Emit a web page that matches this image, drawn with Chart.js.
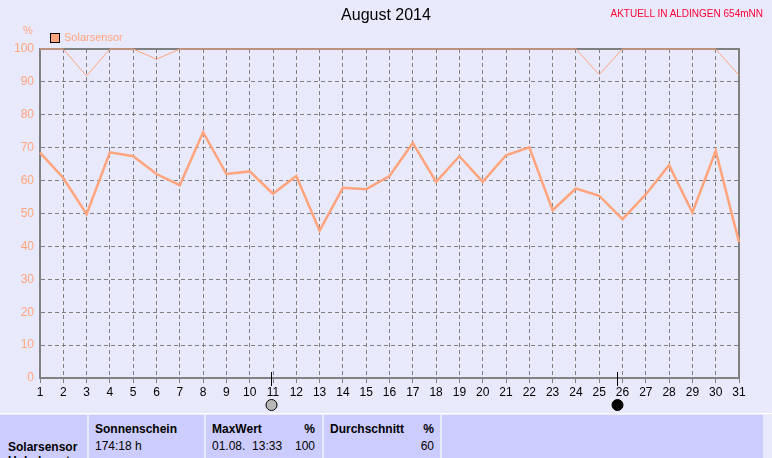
<!DOCTYPE html>
<html>
<head>
<meta charset="utf-8">
<script src="https://cdn.jsdelivr.net/npm/chart.js@4"></script>
<style>
  body { margin: 0; background: #e9e9fc; font-family: "Liberation Sans", Arial, sans-serif; }
  #wrap { position: relative; width: 772px; height: 458px; overflow: hidden; }
  #box { position: absolute; left: 0; top: 0; width: 772px; height: 413px; }
  .t { position: absolute; white-space: nowrap; }
  #title { left: 0; width: 772px; top: 6px; text-align: center; font-size: 16px; color: #000; }
  #place { right: 9px; top: 8px; font-size: 10px; color: #ff0035; }
  #unit { left: 23px; top: 24px; font-size: 11px; color: #ffa47c; }
  #leg { left: 50px; top: 33px; width: 8px; height: 8px; background: #ffa47c; border: 1px solid #000; }
  #legt { left: 64px; top: 31px; font-size: 11px; color: #ffa47c; }
  #table { position: absolute; left: 0; top: 413px; width: 772px; height: 45px; border-top: 1px solid #fff; }
  .c { position: absolute; top: 1px; height: 48px; background: #ccccff; font-size: 12px; color: #000; }
  .c b { position: absolute; }
  .c span { position: absolute; }
</style>
</head>
<body>
<div id="wrap">
  <div id="box"><canvas id="chart"></canvas></div>
  <div class="t" id="title">August 2014</div>
  <div class="t" id="place">AKTUELL IN ALDINGEN 654mNN</div>
  <div class="t" id="unit">%</div>
  <div class="t" id="leg"></div>
  <div class="t" id="legt">Solarsensor</div>
  <div id="table">
    <div class="c" style="left:0;width:87px"><b style="left:8px;top:25px">Solarsensor</b><b style="left:8px;top:39px">Unbekannt</b></div>
    <div class="c" style="left:89px;width:115px"><b style="left:6px;top:7px">Sonnenschein</b><span style="left:6px;top:24px">174:18 h</span></div>
    <div class="c" style="left:206px;width:116px"><b style="left:6px;top:7px">MaxWert</b><b style="right:7px;top:7px">%</b><span style="left:6px;top:24px">01.08.&nbsp;&nbsp;13:33</span><span style="right:7px;top:24px">100</span></div>
    <div class="c" style="left:324px;width:116px"><b style="left:6px;top:7px">Durchschnitt</b><b style="right:6px;top:7px">%</b><span style="right:6px;top:24px">60</span></div>
    <div class="c" style="left:442px;width:321px"></div>
  </div>
</div>
<script>
const days = ["1","2","3","4","5","6","7","8","9","10","11","12","13","14","15","16","17","18","19","20","21","22","23","24","25","26","27","28","29","30","31"];
const avgValues = [68.5, 60.8, 49.8, 68.6, 67.4, 62, 58.6, 74.7, 62, 62.8, 56, 61.4, 44.8, 57.8, 57.4, 61.4, 71.4, 59.6, 67.4, 59.6, 67.7, 70.1, 51, 57.6, 55.4, 48.3, 55.8, 64.7, 50.3, 69, 41.3];
const maxValues = [100, 100, 91.8, 100, 100, 96.9, 100, 100, 100, 100, 100, 100, 100, 100, 100, 100, 100, 100, 100, 100, 100, 100, 100, 100, 92.2, 100, 100, 100, 100, 100, 92];
const yTicks = [0, 10, 20, 30, 40, 50, 60, 70, 80, 90, 100];
// moon phases: day index (0 based, fractional) and type
const moonPos = [9.9, 24.75];
const moonType = ["full", "new"];

const lineColor = "#ffa47c";
const gridColor = "#808080";

const frame = {
  id: "frame",
  beforeDatasetsDraw(chart) {
    const a = chart.chartArea, ctx = chart.ctx;
    ctx.save();
    ctx.strokeStyle = gridColor;
    ctx.lineWidth = 2;
    ctx.strokeRect(a.left, a.top, a.right - a.left, a.bottom - a.top);
    ctx.restore();
  },
  afterDraw(chart) {
    const x = chart.scales.x, a = chart.chartArea, ctx = chart.ctx;
    ctx.save();
    moonPos.forEach((d, i) => {
      const px = Math.round(x.getPixelForValue(d)) + 0.5;
      ctx.strokeStyle = "#000";
      ctx.lineWidth = 1;
      ctx.beginPath();
      ctx.moveTo(px, a.bottom - 6);
      ctx.lineTo(px, a.bottom + 8);
      ctx.stroke();
      ctx.beginPath();
      ctx.arc(px, a.bottom + 27, 5.5, 0, Math.PI * 2);
      ctx.fillStyle = moonType[i] === "full" ? "#b8b8b8" : "#000";
      ctx.fill();
      ctx.strokeStyle = "#000";
      ctx.stroke();
    });
    ctx.restore();
  }
};

new Chart(document.getElementById("chart"), {
  type: "line",
  data: {
    labels: days,
    datasets: [
      { data: maxValues, borderColor: lineColor, borderWidth: 1, pointRadius: 0, tension: 0, clip: false },
      { data: avgValues, borderColor: lineColor, borderWidth: 2.5, pointRadius: 0, tension: 0 }
    ]
  },
  options: {
    responsive: true,
    maintainAspectRatio: false,
    animation: false,
    layout: { padding: { top: 49, right: 33, left: 0, bottom: 0 } },
    plugins: { legend: { display: false }, tooltip: { enabled: false } },
    scales: {
      x: {
        type: "category",
        offset: false,
        grid: { color: gridColor, tickLength: 5, tickBorderDash: [], tickColor: gridColor, tickWidth: 1 },
        border: { color: gridColor, width: 2, dash: [4, 3] },
        ticks: { color: "#000", font: { size: 12, family: "Liberation Sans" }, padding: 2, maxRotation: 0, autoSkip: false },
        afterFit(s) { s.height = 35; }
      },
      y: {
        min: 0,
        max: 100,
        afterBuildTicks(s) { s.ticks = yTicks.map(v => ({ value: v })); },
        grid: { color: gridColor, drawTicks: false },
        border: { color: gridColor, width: 2, dash: [4, 3] },
        ticks: { color: lineColor, font: { size: 12, family: "Liberation Sans" }, padding: 6 },
        afterFit(s) { s.width = 40; }
      }
    }
  },
  plugins: [frame]
});
</script>
</body>
</html>
